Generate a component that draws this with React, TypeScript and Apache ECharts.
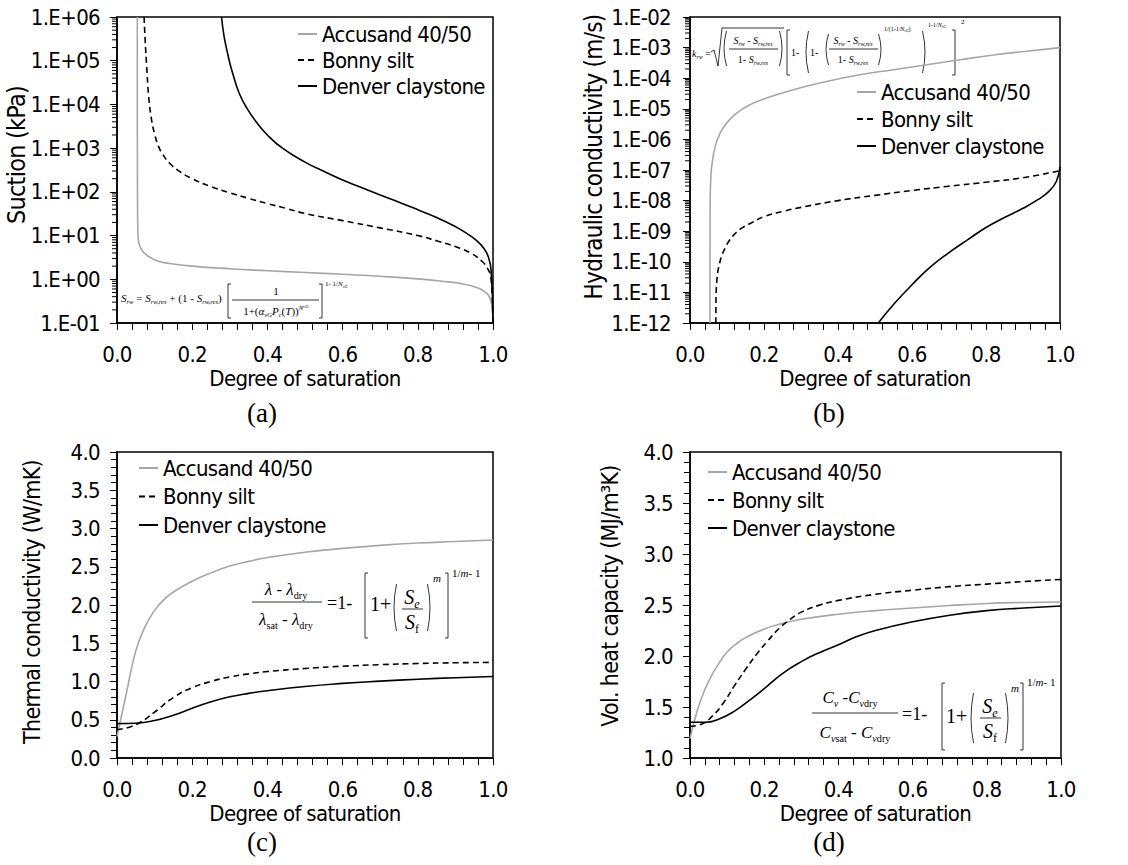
import React, { useEffect, useRef } from 'react';
import * as echarts from 'echarts';

const SANS = 'DejaVu Sans Condensed';
const SERIF = 'Liberation Serif';
const GRAY = '#a6a6a6';

const seriesNames = ['Accusand 40/50', 'Bonny silt', 'Denver claystone'];
const panelLabels = ['(a)', '(b)', '(c)', '(d)'];
const xTitle = 'Degree of saturation';
const yTitles = ['Suction (kPa)', 'Hydraulic conductivity (m/s)', 'Thermal conductivity (W/mK)', 'Vol. heat capacity (MJ/m\u00b3K)'];

// (a) suction (kPa) vs degree of saturation
const suctionAccusand = [[0.054, 1e6], [0.0541, 1e4], [0.0543, 316], [0.0547, 40], [0.0555, 12.6], [0.057, 7.9], [0.06, 6.0], [0.065, 4.8], [0.075, 3.8], [0.09, 3.1], [0.11, 2.6], [0.14, 2.3], [0.2, 2.0], [0.3, 1.74], [0.4, 1.57], [0.5, 1.43], [0.6, 1.3], [0.7, 1.17], [0.8, 1.02], [0.86, 0.91], [0.92, 0.78], [0.96, 0.63], [0.98, 0.5], [0.99, 0.4], [0.997, 0.25], [1.0, 0.1]];
const suctionBonny = [[0.072, 1e6], [0.075, 2.8e5], [0.079, 7.4e4], [0.084, 1.6e4], [0.091, 5.0e3], [0.1, 2.1e3], [0.11, 1.12e3], [0.12, 760], [0.14, 450], [0.17, 280], [0.2, 200], [0.25, 132], [0.3, 95], [0.35, 71], [0.4, 54], [0.45, 42], [0.5, 32], [0.6, 22], [0.7, 15], [0.8, 10], [0.85, 7.6], [0.9, 5.6], [0.94, 4.0], [0.97, 2.6], [0.985, 1.8], [0.995, 1.0], [1.0, 0.1]];
const suctionDenver = [[0.278, 1e6], [0.285, 3.5e5], [0.292, 1.8e5], [0.3, 8.9e4], [0.31, 4.4e4], [0.325, 1.8e4], [0.345, 8.3e3], [0.37, 4.0e3], [0.4, 2.0e3], [0.44, 1.0e3], [0.5, 480], [0.55, 295], [0.6, 186], [0.65, 126], [0.7, 85], [0.75, 58], [0.8, 39], [0.85, 26], [0.9, 16], [0.93, 11.2], [0.955, 7.9], [0.975, 5.2], [0.988, 3.2], [0.995, 1.6], [1.0, 0.1]];

// (b) hydraulic conductivity (m/s)
const hydAccusand = [[0.054, 1e-12], [0.0542, 1e-9], [0.0548, 1.6e-8], [0.0565, 6.3e-8], [0.0586, 1.29e-7], [0.068, 5.8e-7], [0.081, 1.58e-6], [0.099, 3.4e-6], [0.126, 7.2e-6], [0.162, 1.35e-5], [0.207, 2.24e-5], [0.279, 4.2e-5], [0.369, 7.8e-5], [0.459, 1.29e-4], [0.55, 1.9e-4], [0.64, 2.75e-4], [0.73, 4.0e-4], [0.82, 5.75e-4], [0.91, 7.6e-4], [1.0, 1e-3]];
const hydBonny = [[0.07, 1e-12], [0.0702, 5e-12], [0.071, 1.26e-11], [0.073, 2.8e-11], [0.076, 5.4e-11], [0.08, 8.9e-11], [0.086, 1.6e-10], [0.095, 2.8e-10], [0.105, 4.7e-10], [0.12, 7.9e-10], [0.14, 1.26e-9], [0.17, 2.0e-9], [0.2, 3.0e-9], [0.25, 4.4e-9], [0.3, 6.0e-9], [0.4, 1e-8], [0.5, 1.48e-8], [0.6, 2.14e-8], [0.7, 2.95e-8], [0.8, 4e-8], [0.9, 5.6e-8], [1.0, 9.5e-8]];
const hydDenver = [[0.509, 1e-12], [0.55, 4e-12], [0.6, 1.78e-11], [0.65, 6.8e-11], [0.7, 2e-10], [0.75, 5.2e-10], [0.8, 1.32e-9], [0.85, 2.8e-9], [0.9, 5.6e-9], [0.94, 1.07e-8], [0.97, 2e-8], [0.99, 4.2e-8], [1.0, 1.26e-7]];

// (c) thermal conductivity (W/mK)
const thermAccusand = [[0, 0.28], [0.025, 0.85], [0.05, 1.4], [0.075, 1.72], [0.1, 1.93], [0.125, 2.07], [0.15, 2.17], [0.2, 2.31], [0.25, 2.42], [0.3, 2.51], [0.35, 2.57], [0.4, 2.62], [0.5, 2.69], [0.6, 2.74], [0.7, 2.78], [0.8, 2.81], [0.9, 2.83], [1, 2.85]];
const thermBonny = [[0, 0.37], [0.03, 0.4], [0.06, 0.46], [0.1, 0.6], [0.15, 0.79], [0.2, 0.92], [0.25, 1.0], [0.3, 1.06], [0.35, 1.1], [0.4, 1.13], [0.5, 1.17], [0.6, 1.2], [0.7, 1.22], [0.8, 1.235], [0.9, 1.245], [1, 1.25]];
const thermDenver = [[0, 0.45], [0.05, 0.455], [0.1, 0.49], [0.15, 0.56], [0.2, 0.65], [0.25, 0.735], [0.3, 0.8], [0.35, 0.845], [0.4, 0.88], [0.5, 0.935], [0.6, 0.975], [0.7, 1.005], [0.8, 1.03], [0.9, 1.05], [1, 1.065]];

// (d) volumetric heat capacity (MJ/m3K)
const heatAccusand = [[0, 1.19], [0.02, 1.47], [0.04, 1.67], [0.06, 1.82], [0.08, 1.94], [0.1, 2.04], [0.125, 2.12], [0.15, 2.18], [0.2, 2.265], [0.25, 2.32], [0.3, 2.36], [0.4, 2.41], [0.5, 2.445], [0.6, 2.47], [0.7, 2.495], [0.8, 2.515], [0.9, 2.525], [1, 2.53]];
const heatBonny = [[0, 1.31], [0.03, 1.33], [0.06, 1.41], [0.09, 1.54], [0.12, 1.71], [0.15, 1.87], [0.18, 2.02], [0.21, 2.15], [0.24, 2.27], [0.27, 2.36], [0.3, 2.43], [0.35, 2.5], [0.4, 2.545], [0.5, 2.605], [0.6, 2.645], [0.7, 2.68], [0.8, 2.705], [0.9, 2.73], [1, 2.75]];
const heatDenver = [[0, 1.35], [0.04, 1.35], [0.08, 1.385], [0.12, 1.46], [0.16, 1.565], [0.2, 1.68], [0.25, 1.83], [0.3, 1.945], [0.35, 2.035], [0.4, 2.11], [0.45, 2.19], [0.5, 2.25], [0.6, 2.335], [0.7, 2.4], [0.8, 2.445], [0.9, 2.47], [1, 2.49]];

const panelData = [
  [suctionAccusand, suctionBonny, suctionDenver],
  [hydAccusand, hydBonny, hydDenver],
  [thermAccusand, thermBonny, thermDenver],
  [heatAccusand, heatBonny, heatDenver],
];
const yRanges = [[0.1, 1e6], [1e-12, 1e-2], [0, 4], [1, 4]];
const xRange = [0, 1];

const grids = [
  { left: 117, top: 17, width: 376, height: 306 },
  { left: 690, top: 17, width: 370, height: 306 },
  { left: 117, top: 452, width: 376, height: 306 },
  { left: 690, top: 452, width: 371, height: 306 },
];
const yTitlePos = [[16, 155, 25], [594, 157, 24], [32, 602, 23], [610, 596, 23]];
const yLabelMargin = [17, 19, 17, 17];
const legendPos = [[297, 23, 4], [856, 81, 5], [138, 457, 6.5], [707, 461, 6]];
const panelLabelPos = [[262, 413], [829, 413], [262, 842], [829, 842]];

const lineStyles = [
  { color: GRAY, type: 'solid' as any },
  { color: '#000', type: [6, 4] as any },
  { color: '#000', type: 'solid' as any },
];

function rich(fs: number) {
  const base = { fontFamily: SERIF, fill: '#000', color: '#000' };
  const lh = fs * 1.3;
  return {
    n: { ...base, fontSize: fs, lineHeight: lh },
    i: { ...base, fontSize: fs, fontStyle: 'italic', lineHeight: lh },
    s: { ...base, fontSize: fs * 0.6, fontStyle: 'italic', lineHeight: fs * 0.6, verticalAlign: 'bottom' },
    sn: { ...base, fontSize: fs * 0.6, lineHeight: fs * 0.6, verticalAlign: 'bottom' },
    p: { ...base, fontSize: fs * 0.6, fontStyle: 'italic', lineHeight: fs * 0.6, verticalAlign: 'top' },
    ps: { ...base, fontSize: fs * 0.45, fontStyle: 'italic', lineHeight: fs * 0.8, verticalAlign: 'top' },
  };
}
function txt(text: string, x: number, y: number, fs: number, align = 'left') {
  return {
    type: 'text', x, y, silent: true,
    style: { text, rich: rich(fs), fontFamily: SERIF, fontSize: fs, fill: '#000', align, verticalAlign: 'middle', textAlign: align, textVerticalAlign: 'middle' },
  };
}
const stroke = { stroke: '#000', lineWidth: 0.8, fill: 'none' };
function hline(x1: number, x2: number, y: number) {
  return { type: 'line', silent: true, shape: { x1, y1: y, x2, y2: y }, style: { ...stroke } };
}
function lbr(x: number, y1: number, y2: number) {
  return { type: 'polyline', silent: true, shape: { points: [[x + 3, y1], [x, y1], [x, y2], [x + 3, y2]] }, style: { ...stroke } };
}
function rbr(x: number, y1: number, y2: number) {
  return { type: 'polyline', silent: true, shape: { points: [[x - 3, y1], [x, y1], [x, y2], [x - 3, y2]] }, style: { ...stroke } };
}
function lpar(x: number, y1: number, y2: number) {
  return { type: 'bezierCurve', silent: true, shape: { x1: x + 2.5, y1, x2: x + 2.5, y2, cpx1: x - 2.5, cpy1: (y1 + y2) / 2 }, style: { ...stroke } };
}
function rpar(x: number, y1: number, y2: number) {
  return { type: 'bezierCurve', silent: true, shape: { x1: x - 2.5, y1, x2: x - 2.5, y2, cpx1: x + 2.5, cpy1: (y1 + y2) / 2 }, style: { ...stroke } };
}

const eqA = [
  txt('{i|S}{s|rw}{n| = }{i|S}{s|rw,res}{n| + (1 - }{i|S}{s|rw,res}{n|)}', 121, 298, 11),
  lbr(228, 284, 318), rbr(322, 284, 318),
  txt('{n|1}', 276, 291, 11, 'center'),
  hline(232, 319, 300),
  txt('{n|1+(}{i|\u03b1}{s|vG}{i|P}{s|c}{n|(}{i|T}{n|))}{p|N}{ps|vG}', 276, 311, 11, 'center'),
  txt('{n|1- 1/}{i|N}{s|vG}', 325, 284, 7),
];
const eqB = [
  txt('{i|k}{s|rw}{n| =}', 692, 53, 10),
  { type: 'polyline', silent: true, shape: { points: [[711, 52], [714, 50], [718, 66], [722, 28], [784, 28]] }, style: { ...stroke } },
  lpar(724, 31, 66), rpar(782, 31, 66),
  txt('{i|S}{s|rw}{n| - }{i|S}{s|rw,res}', 753, 40, 10, 'center'),
  hline(729, 778, 49),
  txt('{n|1- }{i|S}{s|rw,res}', 753, 59, 10, 'center'),
  lbr(787, 30, 75),
  txt('{n|1- }', 791, 52, 10),
  lpar(806, 31, 73),
  txt('{n|1- }', 810, 52, 10),
  lpar(826, 34, 65),
  txt('{i|S}{s|rw}{n| - }{i|S}{s|rw,res}', 853, 40, 10, 'center'),
  hline(829, 878, 49),
  txt('{n|1- }{i|S}{s|rw,res}', 853, 59, 10, 'center'),
  rpar(881, 34, 65),
  txt('{n|1/(1-1/}{i|N}{s|vG}{n|)}', 884, 29, 6),
  rpar(925, 31, 73),
  txt('{n|1-1/}{i|N}{s|vG}', 928, 25, 6),
  rbr(955, 30, 75),
  txt('{n|2}', 961, 22, 7),
];
const eqC = [
  txt('{i|\u03bb}{n| - }{i|\u03bb}{sn|dry}', 286, 589, 17, 'center'),
  hline(252, 322, 602),
  txt('{i|\u03bb}{sn|sat}{n| - }{i|\u03bb}{sn|dry}', 286, 619, 17, 'center'),
  txt('{n|=1- }', 327, 603, 18),
  lbr(365, 573, 638),
  txt('{n|1+}', 370, 604, 20),
  lpar(394, 584, 631),
  txt('{i|S}{s|e}', 412, 597, 20, 'center'),
  hline(402, 423, 609),
  txt('{i|S}{sn|f}', 412, 622, 20, 'center'),
  rpar(430, 584, 631),
  txt('{i|m}', 433, 578, 11),
  rbr(448, 573, 638),
  txt('{n|1/}{i|m}{n|- 1}', 452, 573, 11),
];
const eqD = [
  txt('{i|C}{s|v}{n| -}{i|C}{s|v}{sn|dry}', 850, 697, 17, 'center'),
  hline(812, 898, 713),
  txt('{i|C}{s|v}{sn|sat}{n| - }{i|C}{s|v}{sn|dry}', 855, 732, 17, 'center'),
  txt('{n|=1- }', 902, 714, 18),
  lbr(942, 683, 750),
  txt('{n|1+}', 946, 716, 20),
  lpar(971, 693, 743),
  txt('{i|S}{s|e}', 990, 706, 20, 'center'),
  hline(980, 1001, 718),
  txt('{i|S}{sn|f}', 990, 731, 20, 'center'),
  rpar(1008, 693, 743),
  txt('{i|m}', 1011, 688, 11),
  rbr(1023, 683, 750),
  txt('{n|1/}{i|m}{n|- 1}', 1027, 682, 11),
];

function logLabel(v: number) {
  const e = Math.round(Math.log10(v));
  return '1.E' + (e < 0 ? '-' : '+') + String(Math.abs(e)).padStart(2, '0');
}
function logMinorValues(min: number, max: number) {
  const out: number[][] = [];
  const e0 = Math.round(Math.log10(min));
  const e1 = Math.round(Math.log10(max));
  for (let e = e0; e < e1; e++) for (let k = 2; k <= 9; k++) out.push([0, k * Math.pow(10, e)]);
  return out;
}

function buildOption() {
  const axisLine = { show: true, lineStyle: { color: '#000', width: 1.5 } };
  const labelStyle = { fontFamily: SANS, fontSize: 22, color: '#000' };
  const xAxis = grids.map((_, i) => ({
    type: 'value', gridIndex: i, min: xRange[0], max: xRange[1], interval: 0.2,
    axisLine,
    axisTick: { show: true, inside: false, length: 7, lineStyle: { color: '#000', width: 1 } },
    minorTick: { show: true, splitNumber: 5, length: 7, lineStyle: { color: '#000', width: 1 } },
    splitLine: { show: false }, minorSplitLine: { show: false },
    axisLabel: { ...labelStyle, margin: 20, formatter: (v: number) => v.toFixed(1) },
    name: xTitle, nameLocation: 'middle', nameGap: 44,
    nameTextStyle: { fontFamily: SANS, fontSize: 22, color: '#000' },
  }));
  const yAxis = grids.map((_, i) => {
    const isLog = i < 2;
    const common: any = {
      gridIndex: i, min: yRanges[i][0], max: yRanges[i][1],
      axisLine,
      axisTick: { show: true, inside: false, length: 7, lineStyle: { color: '#000', width: 1 } },
      splitLine: { show: false },
      axisLabel: { ...labelStyle, margin: yLabelMargin[i], formatter: isLog ? logLabel : (v: number) => v.toFixed(1) },
    };
    if (isLog) return { ...common, type: 'log', logBase: 10, interval: 1 };
    return { ...common, type: 'value', interval: 0.5, minorTick: { show: true, splitNumber: 5, length: 6, lineStyle: { color: '#000', width: 1 } } };
  });
  const series: any[] = [];
  panelData.forEach((sets, i) => {
    sets.forEach((data, k) => {
      series.push({
        type: 'line', name: seriesNames[k], xAxisIndex: i, yAxisIndex: i, data,
        showSymbol: false, symbol: 'none', smooth: 0.5, silent: true,
        lineStyle: { color: lineStyles[k].color, width: 1.6, type: lineStyles[k].type },
        itemStyle: { color: lineStyles[k].color }, z: k === 0 ? 2 : 3,
      });
    });
    if (i < 2) {
      series.push({
        type: 'custom', xAxisIndex: i, yAxisIndex: i, silent: true, clip: false,
        data: logMinorValues(yRanges[i][0], yRanges[i][1]),
        encode: { x: 0, y: 1 },
        renderItem: (_p: any, api: any) => {
          const p = api.coord([0, api.value(1)]);
          return { type: 'line', shape: { x1: p[0] - 5, y1: p[1], x2: p[0], y2: p[1] }, style: { stroke: '#000', lineWidth: 1 } };
        },
      });
    }
  });
  const legend = legendPos.map(([left, top, gap]) => ({
    show: true, left, top, orient: 'vertical', padding: 0, itemWidth: 19, itemHeight: 10, itemGap: gap,
    data: seriesNames, selectedMode: false,
    itemStyle: { opacity: 0 },
    textStyle: { fontFamily: SANS, fontSize: 22, color: '#000' },
  }));
  const labels = panelLabels.map((t, i) => ({
    type: 'text', x: panelLabelPos[i][0], y: panelLabelPos[i][1], silent: true,
    style: { text: t, fontFamily: SERIF, fontSize: 27, fill: '#000', align: 'center', verticalAlign: 'middle', textAlign: 'center', textVerticalAlign: 'middle' },
  }));
  const yTitleEls = yTitles.map((t, i) => ({
    type: 'text', x: yTitlePos[i][0], y: yTitlePos[i][1], rotation: Math.PI / 2, silent: true,
    style: { text: t, fontFamily: SANS, fontSize: yTitlePos[i][2], fill: '#000', align: 'center', verticalAlign: 'middle', textAlign: 'center', textVerticalAlign: 'middle' },
  }));
  return {
    animation: false,
    backgroundColor: '#fff',
    textStyle: { fontFamily: SANS },
    grid: grids.map((g) => ({ ...g, show: true, borderColor: '#000', borderWidth: 1.5, backgroundColor: 'transparent', containLabel: false })),
    xAxis, yAxis, series, legend,
    graphic: { elements: [...labels, ...yTitleEls, ...eqA, ...eqB, ...eqC, ...eqD] },
  };
}

export default function App() {
  const ref = useRef<HTMLDivElement>(null);
  useEffect(() => {
    if (!ref.current) return;
    const chart = echarts.init(ref.current, undefined, { renderer: 'svg' });
    chart.setOption(buildOption() as any);
    return () => chart.dispose();
  }, []);
  return (
    <>
      <style>{'.chartbox text[style*="DejaVu"]{letter-spacing:-0.03em;}'}</style>
      <div ref={ref} className="chartbox" style={{ position: 'absolute', left: 0, top: 0, width: 1128, height: 865 }} />
    </>
  );
}
